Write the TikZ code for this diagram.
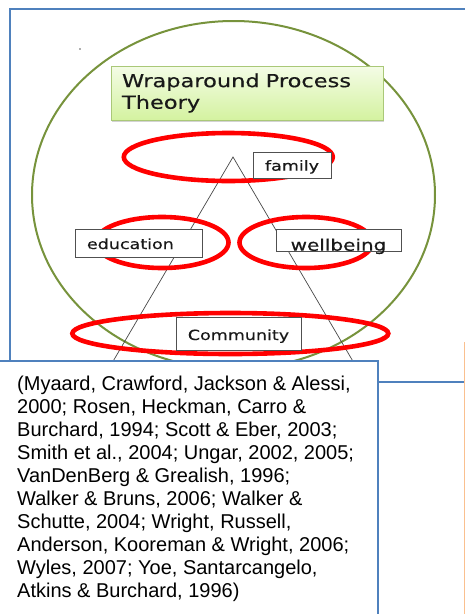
\documentclass[tikz,border=0pt]{standalone}
\usepackage{fontspec}
\setmainfont{Liberation Sans}
\newfontfamily\widefont[FakeStretch=1.25,FakeBold=0.4]{DejaVu Sans}
\usetikzlibrary{shadows}
\definecolor{frameblue}{RGB}{79,129,189}
\definecolor{olivegreen}{RGB}{119,147,60}
\definecolor{ringred}{RGB}{255,0,0}
\definecolor{titletop}{RGB}{244,252,230}
\definecolor{titlebot}{RGB}{212,242,160}
\definecolor{titleedge}{RGB}{170,200,120}
\definecolor{paleorange}{RGB}{250,192,143}
\definecolor{boxedge}{RGB}{80,80,80}
\definecolor{inkgray}{RGB}{25,25,25}
\begin{document}
\begin{tikzpicture}[x=1pt,y=-1pt,
  frame/.style={draw=frameblue,line width=1.5pt},
  ring/.style={draw=ringred,line width=4.6pt},
  ovalline/.style={draw=olivegreen,line width=2pt},
  sideline/.style={draw=inkgray!80,line width=0.7pt},
  tagbox/.style={draw=boxedge,line width=0.8pt,fill=white,inner sep=0pt,
    font=\widefont\fontsize{14}{16}\selectfont,text=inkgray,text depth=0pt},
  titlebox/.style={draw=titleedge,line width=0.8pt,top color=titletop,bottom color=titlebot,
    drop shadow={shadow xshift=1.2pt,shadow yshift=-1.6pt,opacity=0.35},
    inner sep=0pt,align=left,text width=250pt,minimum width=272pt,minimum height=54pt,
    font=\widefont\fontsize{18}{21.6}\selectfont,text=inkgray}]
\useasboundingbox (0,0) rectangle (465,614);
\clip (0,0) rectangle (465,614);
% outer frame
\draw[frame] (10,9) rectangle (475,382);
% stray dot
\fill[inkgray!70] (80,49) circle (0.8pt);
% big green oval
\draw[ovalline] (233.5,195) ellipse [x radius=201.5pt, y radius=174pt];
% title
\node[titlebox] (title) at (247,93) {Wraparound Process\\Theory};
% triangle sides
\coordinate (apex) at (233,157);
\coordinate (footL) at (95,392);
\coordinate (footR) at (371,392);
\draw[sideline] (footL) -- (apex) -- (footR);
% red rings
\draw[ring] (228.3,157) ellipse [x radius=104.5pt, y radius=24pt];
\draw[ring] (162,242.5) ellipse [x radius=66.5pt, y radius=25.5pt];
\draw[ring] (306,242.5) ellipse [x radius=66.5pt, y radius=25.5pt];
\draw[ring] (230.3,333.5) ellipse [x radius=158pt, y radius=20.5pt];
% labels
\node[tagbox,minimum width=78pt,minimum height=26pt,text height=11.4pt] (family) at (292,165) {family};
\node[tagbox,minimum width=127pt,minimum height=28pt,text height=12pt,inner xsep=12pt,text width=103pt,align=left] (education) at (138.5,243) {education};
\node[tagbox,minimum width=125pt,minimum height=22pt,text height=21.4pt,font=\widefont\fontsize{16}{18}\selectfont] (wellbeing) at (338.5,240) {wellbeing};
\node[tagbox,minimum width=125pt,minimum height=33pt,text height=12pt] (community) at (238.5,334) {Community};
% citation box
\node[frame,fill=white,anchor=north west,inner sep=0pt,minimum width=382pt,minimum height=340pt] (citebox) at (-5,360) {};
\node[anchor=north west,inner sep=0pt,align=left,font=\fontsize{20}{23}\selectfont,text=black] (cite) at (17,375.4)
{(Myaard, Crawford, Jackson \& Alessi,\\
2000; Rosen, Heckman, Carro \&\\
Burchard, 1994; Scott \& Eber, 2003;\\
Smith et al., 2004; Ungar, 2002, 2005;\\
VanDenBerg \& Grealish, 1996;\\
Walker \& Bruns, 2006; Walker \&\\
Schutte, 2004; Wright, Russell,\\
Anderson, Kooreman \& Wright, 2006;\\
Wyles, 2007; Yoe, Santarcangelo,\\
Atkins \& Burchard, 1996)};
% orange edge
\coordinate (orTop) at (464,342);
\coordinate (orBot) at (464,620);
\draw[paleorange,line width=1pt] (orTop) -- (orBot);
\end{tikzpicture}
\end{document}
